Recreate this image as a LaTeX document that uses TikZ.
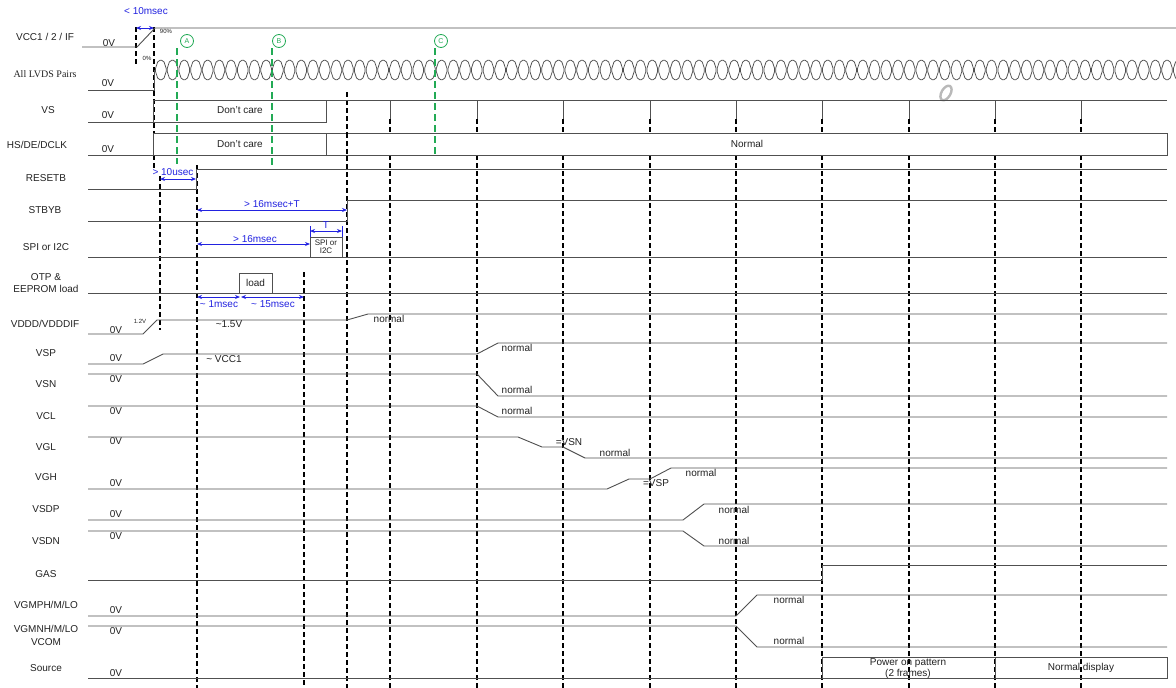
\documentclass[tikz,border=0pt]{standalone}
\usepackage{fontspec}
\setmainfont{Liberation Sans}
\newfontfamily\serifLV{Liberation Serif}
\usetikzlibrary{arrows.meta}
\definecolor{sigc}{HTML}{505050}
\definecolor{bluc}{HTML}{2222E0}
\definecolor{grnc}{HTML}{22AA55}
\definecolor{txtc}{HTML}{222222}
\begin{document}
\begin{tikzpicture}[x=1pt,y=-1pt,
  font=\fontsize{10}{12}\selectfont,
  sig/.style={draw=sigc, line width=0.9pt},
  vdash/.style={draw=black, line width=1.1pt, dash pattern=on 5pt off 3pt},
  gdash/.style={draw=grnc, line width=1.8pt, dash pattern=on 7pt off 4pt},
  dim/.style={draw=bluc, line width=0.9pt, {Stealth[length=5pt,width=4pt]}-{Stealth[length=5pt,width=4pt]}},
  blab/.style={text=bluc, inner sep=0pt},
  lab/.style={text=txtc, inner sep=0pt, align=center},
  zv/.style={text=txtc, inner sep=0pt},
  nrm/.style={text=txtc, inner sep=0pt},
  tiny/.style={text=txtc, inner sep=0pt, font=\fontsize{6}{7}\selectfont},
  gcirc/.style={circle, draw=grnc, line width=0.8pt, text=grnc, minimum size=13pt, inner sep=0pt, font=\fontsize{7}{8}\selectfont},
  boxtxt/.style={text=txtc, inner sep=0pt, align=center}
]
\useasboundingbox (0,0) rectangle (1176,688);
\fill[white] (0,0) rectangle (1176,688);

% ---------- left labels ----------
\node[lab] (lVCC) at (45,37) {VCC1 / 2 / IF};
\node[lab, font=\serifLV\fontsize{10}{12}\selectfont] (lLVDS) at (45,74) {All LVDS Pairs};
\node[lab] (lVS) at (48,110) {VS};
\node[lab] (lHS) at (37,145) {HS/DE/DCLK};
\node[lab] (lRST) at (46,178) {RESETB};
\node[lab] (lSTB) at (45,210) {STBYB};
\node[lab] (lSPI) at (46,247) {SPI or I2C};
\node[lab] (lOTP) at (46,277) {OTP \&};
\node[lab] (lEEP) at (46,289) {EEPROM load};
\node[lab] (lVDDD) at (45,324) {VDDD/VDDDIF};
\node[lab] (lVSP) at (46,353) {VSP};
\node[lab] (lVSN) at (46,384) {VSN};
\node[lab] (lVCL) at (46,416) {VCL};
\node[lab] (lVGL) at (46,447) {VGL};
\node[lab] (lVGH) at (46,477) {VGH};
\node[lab] (lVSDP) at (46,509) {VSDP};
\node[lab] (lVSDN) at (46,541) {VSDN};
\node[lab] (lGAS) at (46,574) {GAS};
\node[lab] (lVGMP) at (46,605) {VGMPH/M/LO};
\node[lab] (lVGMN) at (46,629) {VGMNH/M/LO};
\node[lab] (lVCOM) at (46,642) {VCOM};
\node[lab] (lSrc) at (46,668) {Source};

% ---------- 0V labels ----------
\node[zv] (z1) at (109,43) {0V};
\node[zv] (z2) at (108,83) {0V};
\node[zv] (z3) at (108,115) {0V};
\node[zv] (z4) at (108,149) {0V};
\node[zv] (z5) at (116,330) {0V};
\node[zv] (z6) at (116,358) {0V};
\node[zv] (z7) at (116,379) {0V};
\node[zv] (z8) at (116,411) {0V};
\node[zv] (z9) at (116,441) {0V};
\node[zv] (z10) at (116,483) {0V};
\node[zv] (z11) at (116,514) {0V};
\node[zv] (z12) at (116,536) {0V};
\node[zv] (z13) at (116,610) {0V};
\node[zv] (z14) at (116,631) {0V};
\node[zv] (z15) at (116,673) {0V};

% ---------- dashed verticals ----------
\draw[vdash] (136,27) -- (136,65);
\draw[vdash] (154,27) -- (154,168);
\draw[vdash] (160,168) -- (160,330);
\draw[vdash] (197,165) -- (197,688);
\draw[vdash] (304,272) -- (304,688);
\draw[vdash] (347,92) -- (347,688);
\foreach \xx in {390,477,563,650,736,822,909,995,1081}{
  \draw[vdash] (\xx,119) -- (\xx,133);
  \draw[vdash] (\xx,155) -- (\xx,688);
  \draw[sig] (\xx,100) -- (\xx,119);
}

% ---------- VCC ----------
\draw[sig] (82,47) -- (137,47) -- (155,28) -- (1176,28);
\node[tiny] (p90) at (166,31) {90\%};
\node[tiny] (p0) at (147,58) {0\%};

% ---------- LVDS ----------
\draw[sig] (88,90) -- (154,90) -- (154,70);
\begin{scope}
\clip (154,50) rectangle (1176,90);
\foreach \i in {0,...,87}{
  \pgfmathsetmacro\xa{155+11.7*\i}
  \draw[sig, line width=0.75pt, rounded corners=1.8pt] (\xa,70) -- (\xa+3.2,60.3) -- (\xa+8.5,60.3) -- (\xa+11.7,70)
        -- (\xa+8.5,79.7) -- (\xa+3.2,79.7) -- cycle;
}
\end{scope}
\draw[gray!55, line width=2.4pt, rotate around={-30:(946,93)}] (946,93) ellipse (4.5 and 8);

% ---------- VS ----------
\draw[sig] (88,122) -- (326,122) -- (326,100);
\draw[sig] (153,122) -- (153,100) -- (1167,100);
\node[boxtxt] (vsdc) at (240,110) {Don't care};

% ---------- HS/DE/DCLK ----------
\draw[sig, fill=white] (153,133) rectangle (1167,155);
\draw[sig] (88,155) -- (153,155);
\draw[sig] (326,133) -- (326,155);
\node[boxtxt] (hsdc) at (240,144) {Don't care};
\node[boxtxt] (hsn) at (747,144) {Normal};
\draw[vdash] (347,133) -- (347,155);

% ---------- RESETB / STBYB / SPI / OTP ----------
\draw[sig] (88,189) -- (196,189) -- (196,169) -- (1167,169);
\draw[sig] (88,221) -- (347,221) -- (347,200) -- (1167,200);
\draw[sig] (88,257) -- (1167,257);
\draw[sig] (310,237) rectangle (342,257);
\node[boxtxt, font=\fontsize{8}{9}\selectfont] (spibox) at (326,247) {SPI or\\[-1pt]I2C};
\draw[sig] (88,293) -- (1167,293);
\draw[sig] (239,273) rectangle (272,293);
\node[boxtxt] (load) at (255.5,283) {load};

% ---------- analog rails ----------
\draw[sig] (88,334) -- (143,334) -- (157,320) -- (347,320) -- (368,314) -- (1167,314);
\node[tiny] (v12) at (140,321) {1.2V};
\node[nrm] (v15) at (229,324) {\textasciitilde1.5V};
\node[nrm] (nVDDD) at (389,319) {normal};

\draw[sig] (88,364) -- (143,364) -- (163,354) -- (477,354) -- (498,343) -- (1167,343);
\node[nrm] (vcc1) at (224,359) {\textasciitilde{} VCC1};
\node[nrm] (nVSP) at (517,348) {normal};

\draw[sig] (88,374) -- (477,374) -- (498,396) -- (1167,396);
\node[nrm] (nVSN) at (517,390) {normal};

\draw[sig] (88,406) -- (477,406) -- (498,417) -- (1167,417);
\node[nrm] (nVCL) at (517,411) {normal};

\draw[sig] (88,437) -- (518,437) -- (542,447) -- (563,447) -- (585,458) -- (1167,458);
\node[nrm] (eqVSN) at (569,442) {=VSN};
\node[nrm] (nVGL) at (615,453) {normal};

\draw[sig] (88,489) -- (607,489) -- (629,479) -- (650,479) -- (671,468) -- (1167,468);
\node[nrm] (eqVSP) at (656,483) {=VSP};
\node[nrm] (nVGH) at (701,473) {normal};

\draw[sig] (88,520) -- (683,520) -- (704,504) -- (1167,504);
\node[nrm] (nVSDP) at (734,510) {normal};

\draw[sig] (88,531) -- (683,531) -- (704,546) -- (1167,546);
\node[nrm] (nVSDN) at (734,541) {normal};

\draw[sig] (88,580) -- (822,580) -- (822,565) -- (1167,565);

\draw[sig] (88,616) -- (736,616) -- (757,595) -- (1167,595);
\node[nrm] (nVGMP) at (789,600) {normal};

\draw[sig] (88,626) -- (736,626) -- (757,647) -- (1167,647);
\node[nrm] (nVGMN) at (789,641) {normal};

\draw[sig] (88,678) -- (1167,678);
\draw[sig] (822,657) rectangle (1167,678);
\draw[sig] (995,657) -- (995,678);
\node[boxtxt] (pop) at (908,663) {Power on pattern};
\node[boxtxt] (pop2) at (908,674) {(2 frames)};
\node[boxtxt] (nd) at (1081,668) {Normal display};

% ---------- green markers ----------
\node[gcirc] (gA) at (187,41) {A};
\node[gcirc] (gB) at (279,41) {B};
\node[gcirc] (gC) at (441,41) {C};
\draw[gdash] (177,48) -- (177,164);
\draw[gdash] (272,48) -- (272,165);
\draw[gdash] (435,48) -- (435,157);

% ---------- blue dimensions ----------
\coordinate (d1a) at (136,28); \coordinate (d1b) at (154,28);
\draw[dim] (d1a) -- (d1b);
\node[blab] (t1) at (146,11) {< 10msec};

\coordinate (d2a) at (160,179); \coordinate (d2b) at (196,179);
\draw[dim] (d2a) -- (d2b);
\node[blab, fill=white, inner sep=0.5pt] (t2) at (173,172) {> 10usec};

\coordinate (d3a) at (197,210); \coordinate (d3b) at (347,210);
\draw[dim] (d3a) -- (d3b);
\node[blab] (t3) at (272,204) {> 16msec+T};

\coordinate (d4a) at (197,244); \coordinate (d4b) at (310,244);
\draw[dim] (d4a) -- (d4b);
\node[blab] (t4) at (255,239) {> 16msec};

\coordinate (d5a) at (310,231); \coordinate (d5b) at (342,231);
\draw[bluc, line width=0.9pt] (310,226) -- (310,237) (342,226) -- (342,237);
\draw[dim] (d5a) -- (d5b);
\node[blab] (t5) at (326,225) {T};

\coordinate (d6a) at (197,297); \coordinate (d6b) at (240,297);
\draw[dim] (d6a) -- (d6b);
\node[blab] (t6) at (219,304) {\textasciitilde{} 1msec};

\coordinate (d7a) at (241,297); \coordinate (d7b) at (304,297);
\draw[dim] (d7a) -- (d7b);
\node[blab] (t7) at (273,304) {\textasciitilde{} 15msec};
\end{tikzpicture}
\end{document}
